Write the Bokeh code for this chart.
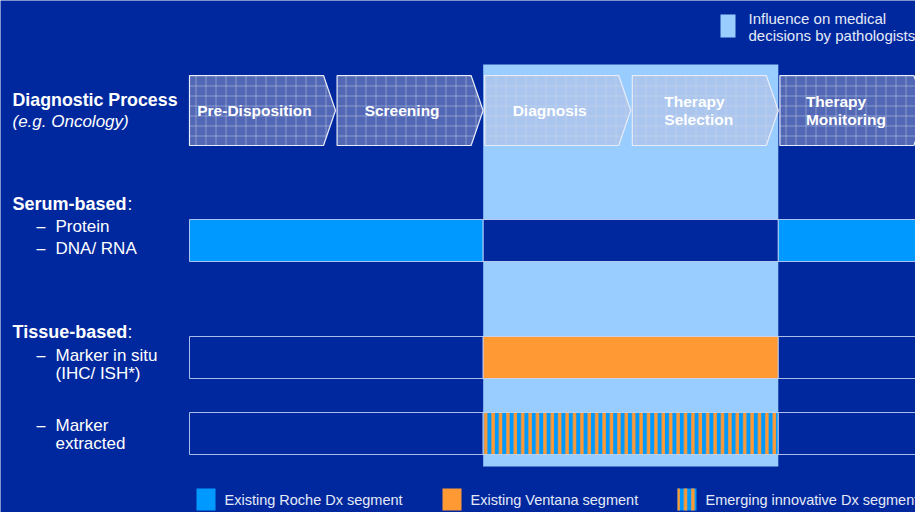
from bokeh.plotting import figure
from bokeh.models import Range1d
from bokeh.core.properties import value
from bokeh.embed import file_html
from bokeh.resources import INLINE

# ---- data ----
stages = ["Pre-Disposition", "Screening", "Diagnosis", "Therapy\nSelection", "Therapy\nMonitoring"]
stage_align = ["center", "center", "center", "left", "left"]
highlight_stages = [2, 3]          # stages influenced by pathologists
rows = ["serum", "tissue_situ", "tissue_extracted"]
# segment kind per stage group: (before highlight, highlight, after)
row_segments = {
    "serum": ["roche", "none", "roche"],
    "tissue_situ": ["none", "ventana", "none"],
    "tissue_extracted": ["none", "emerging", "none"],
}
legend_labels = ["Existing Roche Dx segment", "Existing Ventana segment", "Emerging innovative Dx segment"]
legend_kinds = ["roche", "ventana", "emerging"]

# ---- style ----
BG = "#00289E"
LIGHT = "#99CCFF"
ROCHE = "#0099FF"
ORANGE = "#FF9933"
FONT = value("Liberation Sans")

p = figure(width=915, height=512, x_range=Range1d(0, 915), y_range=Range1d(512, 0),
           output_backend="svg", toolbar_location=None, min_border=0)
p.axis.visible = False
p.grid.visible = False
p.outline_line_color = None
p.background_fill_color = BG
p.border_fill_color = BG

x0, step, flat, tip = 189, 147.6, 134, 12
top, bot = 75, 145
starts = [x0 + i * step for i in range(len(stages))]
h_left = starts[highlight_stages[0]] - 1.5
h_right = starts[highlight_stages[-1]] + flat + tip

# highlight area
p.quad(left=h_left, right=h_right, top=64, bottom=466, fill_color=LIGHT, line_color=None)

# chevrons
xs, ys = [], []
mid = (top + bot) / 2
for s in starts:
    xs.append([s, s + flat, s + flat + tip, s + flat, s])
    ys.append([top, top, mid, bot, bot])
p.patches(xs, ys, fill_color="#C3BFD6", fill_alpha=0.42, line_color="#E8ECF8", line_width=1.2,
          hatch_pattern="cross", hatch_color="#D0D6EA", hatch_alpha=0.45, hatch_scale=10, hatch_weight=1)

left_offsets = [0, 0, 0, 32, 26]
for i, (s, lab) in enumerate(zip(starts, stages)):
    lines = lab.split("\n")
    n = len(lines)
    for j, ln in enumerate(lines):
        yy = mid + (j - (n - 1) / 2) * 18.5
        if stage_align[i] == "center":
            p.text(x=[s + flat / 2 - 2], y=[yy], text=[ln], text_color="white", text_font=FONT,
                   text_font_style="bold", text_font_size="15.5px", text_align="center", text_baseline="middle")
        else:
            p.text(x=[s + left_offsets[i]], y=[yy], text=[ln], text_color="white", text_font=FONT,
                   text_font_style="bold", text_font_size="15.5px", text_align="left", text_baseline="middle")

# rows
row_y = {"serum": (219, 261), "tissue_situ": (336, 378), "tissue_extracted": (412, 454)}
bounds = [x0, h_left, h_right, 915]
for r in rows:
    t, b = row_y[r]
    for k, kind in enumerate(row_segments[r]):
        l, rr = bounds[k], bounds[k + 1]
        kw = dict(left=l, right=rr, top=t, bottom=b, line_color="#C8D6F5", line_alpha=0.85, line_width=1)
        if kind == "roche":
            p.quad(fill_color=ROCHE, **kw)
        elif kind == "ventana":
            p.quad(fill_color=ORANGE, **kw)
        elif kind == "emerging":
            p.quad(fill_color=ROCHE, hatch_pattern="vertical_line", hatch_color=ORANGE,
                   hatch_scale=7.4, hatch_weight=3.4, **kw)
        else:
            p.quad(fill_color=BG, **kw)

# left labels
def txt(x, y, s, size="17px", style="normal", color="white", align="left"):
    p.text(x=[x], y=[y], text=[s], text_color=color, text_font=FONT, text_font_style=style,
           text_font_size=size, text_align=align, text_baseline="middle")

txt(12, 99, "Diagnostic Process", size="17.8px", style="bold")
txt(12, 121, "(e.g. Oncology)", size="17px", style="italic")
txt(12, 203, "Serum-based", size="18px", style="bold")
txt(127, 203, ":", size="17.5px")
txt(36, 226, "–", size="16px"); txt(55, 226, "Protein", size="17px")
txt(36, 248, "–", size="16px"); txt(55, 248, "DNA/ RNA", size="17px")
txt(12, 331, "Tissue-based", size="18px", style="bold")
txt(127, 331, ":", size="17.5px")
txt(36, 355, "–", size="16px"); txt(55, 355, "Marker in situ", size="17px")
txt(55, 373, "(IHC/ ISH*)", size="17px")
txt(36, 425, "–", size="16px"); txt(55, 425, "Marker", size="17px")
txt(55, 443, "extracted", size="17px")

# top legend
p.quad(left=720, right=735, top=14, bottom=37, fill_color=LIGHT, line_color=None)
txt(748, 18, "Influence on medical", size="15px", color="#E4EAF8")
txt(748, 35, "decisions by pathologists", size="15px", color="#E4EAF8")

# bottom legend
leg_x = [196, 442, 677]
for lx, lab, kind in zip(leg_x, legend_labels, legend_kinds):
    kw = dict(left=lx, right=lx + 19, top=488, bottom=510, line_color=None)
    if kind == "roche":
        p.quad(fill_color=ROCHE, **kw)
    elif kind == "ventana":
        p.quad(fill_color=ORANGE, **kw)
    else:
        p.quad(fill_color=ROCHE, hatch_pattern="vertical_line", hatch_color=ORANGE,
               hatch_scale=7.4, hatch_weight=3.4, **kw)
    txt(lx + 28, 499, lab, size="14.5px", color="#E4EAF8")

open("out.html", "w").write(file_html(p, INLINE))
